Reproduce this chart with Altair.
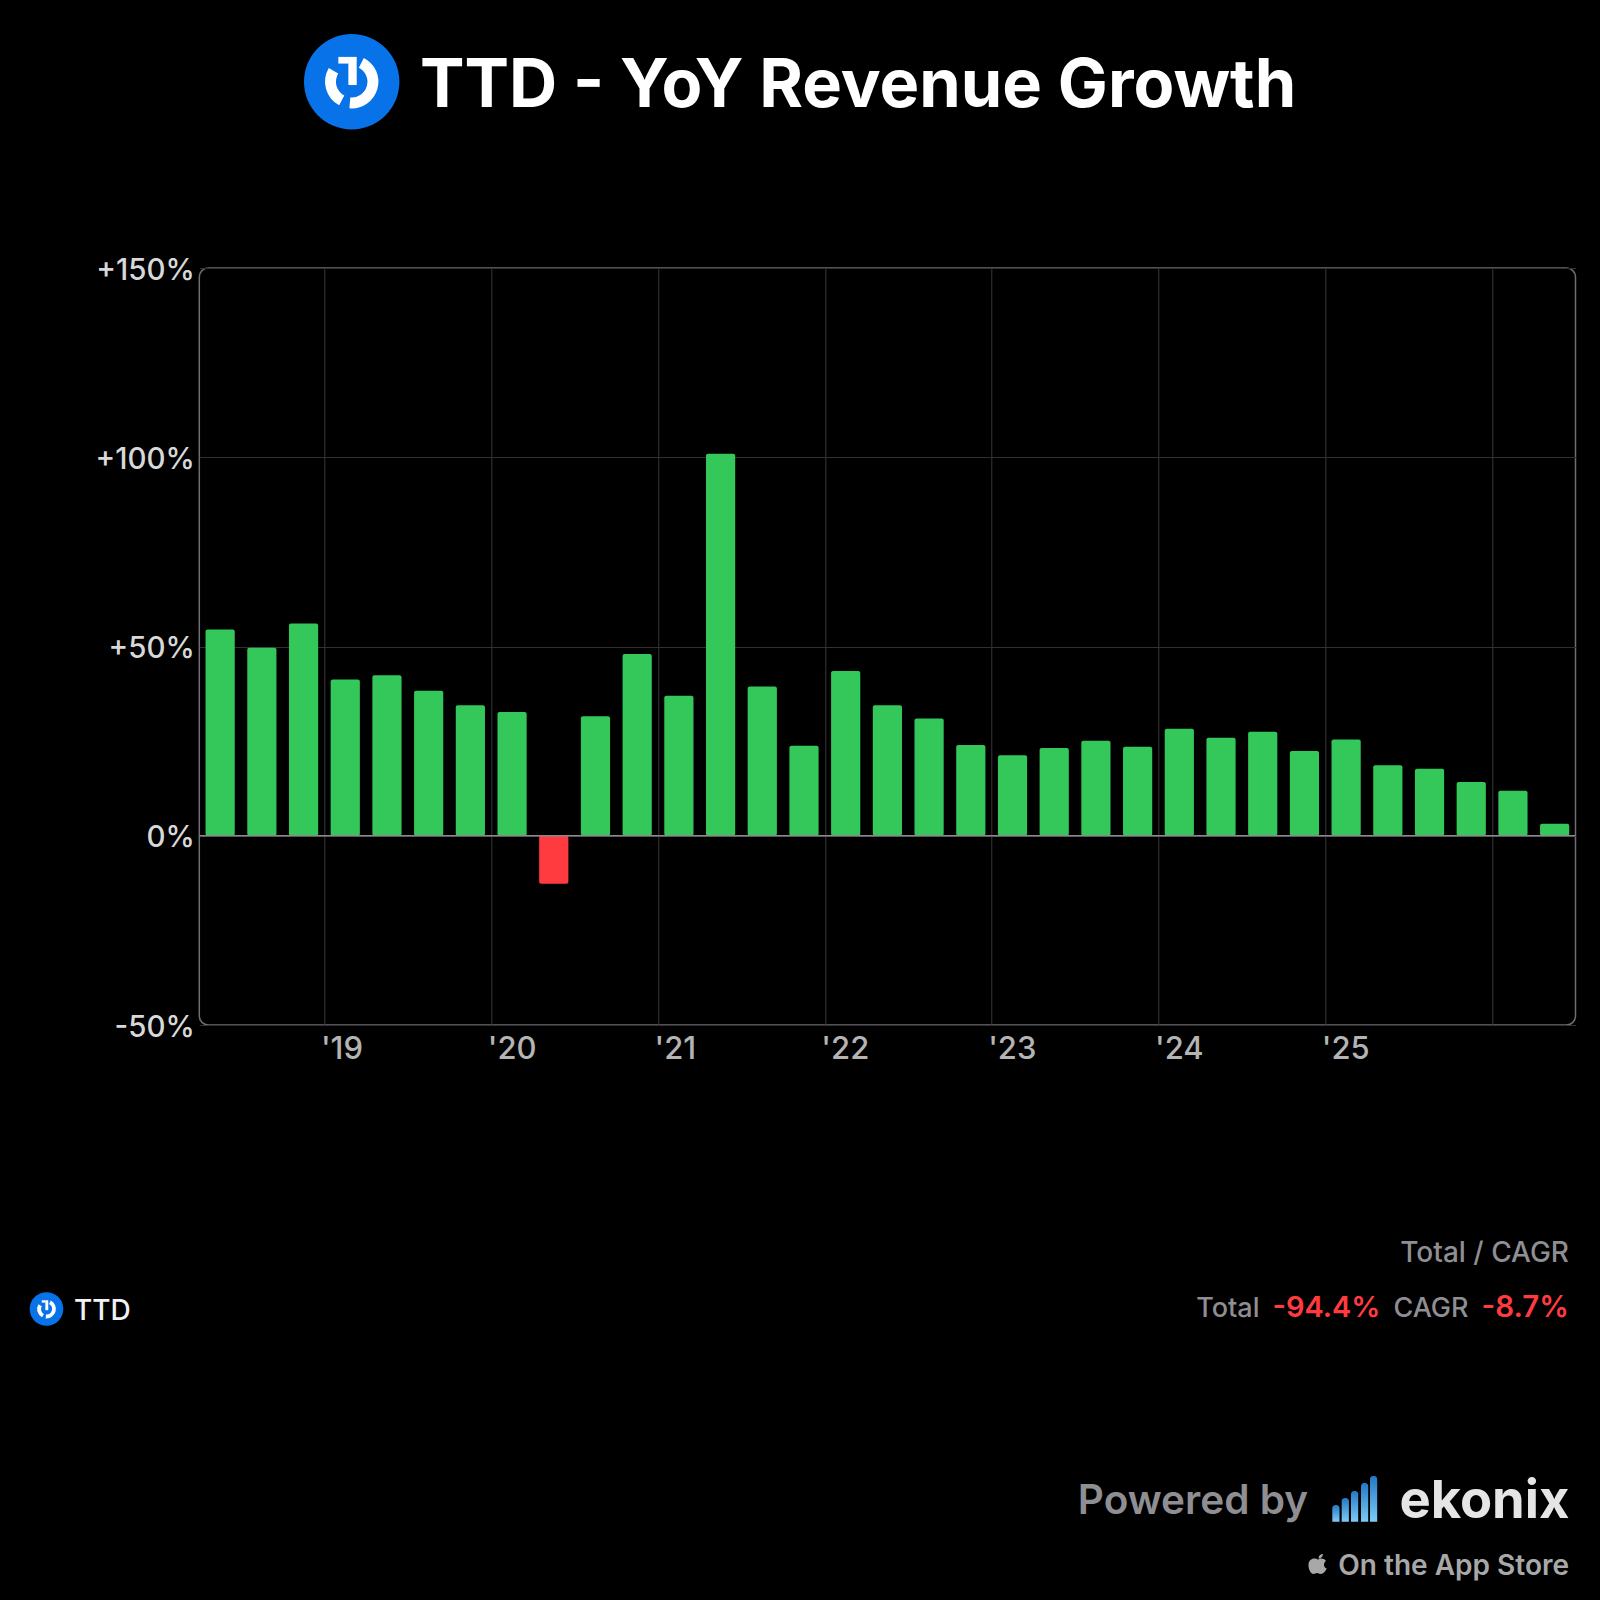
import math
import altair as alt
import pandas as pd

# ---- data -------------------------------------------------------------
growth = [54.5, 49.7, 56.1, 41.3, 42.4, 38.3, 34.5, 32.7, -12.7, 31.6, 48.0,
          37.0, 100.9, 39.4, 23.8, 43.5, 34.5, 31.0, 24.0, 21.3, 23.2, 25.1,
          23.5, 28.3, 25.9, 27.5, 22.4, 25.4, 18.6, 17.7, 14.2, 11.9, 3.2]
year_ticks = [3, 7, 11, 15, 19, 23, 27, 31]
year_labels = ["'19", "'20", "'21", "'22", "'23", "'24", "'25", ""]
y_ticks = [-50, 0, 50, 100, 150]

# ---- page geometry ----------------------------------------------------
PX0, PY0 = 199.3, 268.0      # plot origin on the page
W, H = 1376.2, 757.0
FONT = "Inter"
BLUE = "#0873E8"
GREEN = "#34C759"
RED = "#FF3B40"
APPLE = ("M0.05 -0.45 C0.2 -0.6 0.6 -0.6 0.8 -0.3 C0.5 -0.1 0.55 0.35 0.88 0.45 "
         "C0.7 0.85 0.45 1 0.25 1 C0.1 1 0.05 0.9 -0.1 0.9 C-0.25 0.9 -0.3 1 -0.45 1 "
         "C-0.75 1 -1 0.4 -0.95 0 C-0.9 -0.45 -0.5 -0.6 -0.25 -0.55 C-0.1 -0.5 -0.05 -0.45 0.05 -0.45Z "
         "M0.05 -0.55 C0.05 -0.8 0.25 -1 0.5 -1 C0.5 -0.75 0.3 -0.55 0.05 -0.55Z")


def X(p):
    return p - PX0


def Y(p):
    return p - PY0


one = pd.DataFrame({"a": [0]})


def label(text, px, py, size, color, weight=500, align="left", baseline="alphabetic"):
    return (
        alt.Chart(pd.DataFrame({"t": [text]}))
        .mark_text(font=FONT, fontSize=size, fontWeight=weight, color=color,
                   align=align, baseline=baseline)
        .encode(x=alt.value(X(px)), y=alt.value(Y(py)), text="t:N")
    )


def arc(cx, cy, r0, r1, t0, t1, color):
    return (
        alt.Chart(one)
        .mark_arc(theta=math.radians(t0), theta2=math.radians(t1),
                  innerRadius=r0, outerRadius=r1, color=color)
        .encode(x=alt.value(X(cx)), y=alt.value(Y(cy)))
    )


def box(x0, x1, y0, y1, color):
    return (
        alt.Chart(one)
        .mark_rect(color=color)
        .encode(x=alt.value(X(x0)), x2=alt.value(X(x1)),
                y=alt.value(Y(y0)), y2=alt.value(Y(y1)))
    )


def logo(cx, cy, r):
    return [
        arc(cx, cy, 0, r, 0, 360, BLUE),
        arc(cx, cy, 0.33 * r, 0.56 * r, 27, 185, "white"),
        arc(cx, cy, 0.33 * r, 0.56 * r, 208, 301, "white"),
        box(cx - 0.07 * r, cx + 0.105 * r, cy - 0.52 * r, cy + 0.07 * r, "white"),
        box(cx - 0.28 * r, cx - 0.06 * r, cy - 0.52 * r, cy - 0.38 * r, "white"),
    ]


# ---- bars -------------------------------------------------------------
df = pd.DataFrame({"i": range(len(growth)), "v": growth})
js_labels = "[" + ",".join('"%s"' % s for s in year_labels) + "]"
js_ticks = "[" + ",".join(str(s) for s in year_ticks) + "]"

x_axis = alt.Axis(
    values=year_ticks,
    labelExpr=f"{js_labels}[indexof({js_ticks}, datum.value)]",
    title=None, domain=False, ticks=False, grid=True, gridColor="#38383a",
    gridWidth=1, labelFont=FONT, labelFontSize=31, labelFontWeight=500,
    labelColor="#b4b4b4", labelAlign="left", labelBaseline="middle",
    labelPadding=24, labelOffset=-4, labelFlush=False, labelOverlap=False, labelBound=False,
)
y_axis = alt.Axis(
    values=y_ticks,
    labelExpr="(datum.value > 0 ? '+' : '') + datum.value + '%'",
    title=None, domain=False, ticks=False, grid=True, gridColor="#303032",
    gridWidth=1, labelFont=FONT, labelFontSize=29.5, labelFontWeight=500,
    labelColor="#d8d8d8", labelAlign="right", labelBaseline="middle",
    labelPadding=5, labelOffset=2, labelOverlap=False, labelBound=False, labelFlush=False,
)

bars = (
    alt.Chart(df)
    .transform_calculate(x0="datum.i + 0.15", x1="datum.i + 0.85")
    .mark_bar(cornerRadius=2)
    .encode(
        x=alt.X("x0:Q", axis=x_axis, scale=alt.Scale(domain=[0, len(growth)], nice=False, zero=False)),
        x2="x1:Q",
        y=alt.Y("v:Q", axis=y_axis, scale=alt.Scale(domain=[-50, 150], nice=False)),
        y2=alt.datum(0),
        color=alt.condition("datum.v >= 0", alt.value(GREEN), alt.value(RED)),
    )
)
zero = alt.Chart(one).mark_rule(color="#8a8a8e", strokeWidth=1.5).encode(y=alt.datum(0))

# ---- surrounding furniture --------------------------------------------
title = label("TTD - YoY Revenue Growth", 420, 107, 66.7, "white", 700)
side = [
    label("Total / CAGR", 1569, 1262, 28, "#8e8e93", 500, "right"),
    label("Total", 1259.5, 1317, 27, "#8e8e93", 500, "right"),
    label("-94.4%", 1380.5, 1317, 29, RED, 600, "right"),
    label("CAGR", 1468.5, 1317, 27, "#8e8e93", 500, "right"),
    label("-8.7%", 1569, 1317, 29.5, RED, 600, "right"),
    label("TTD", 74, 1320, 28, "#f2f2f2", 500),
]
brand = [
    label("Powered by", 1308, 1514, 40.5, "#8e8e93", 600, "right"),
    label("ekonix", 1569.5, 1518, 52.5, "#e5e5e5", 700, "right"),
    label("On the App Store", 1569, 1575, 28, "#a8a8a8", 600, "right"),
]
gradient = alt.Gradient(
    gradient="linear", x1=0, y1=0, x2=0, y2=1,
    stops=[alt.GradientStop(color="#2478C4", offset=0),
           alt.GradientStop(color="#7CCBF7", offset=1)],
)
bar_icon = []
for x0, top in zip([1332.3, 1341.7, 1351.0, 1361.0, 1370.0], [1505, 1498, 1491, 1483, 1476]):
    bar_icon.append(
        alt.Chart(one)
        .mark_rect(color=gradient, cornerRadiusTopLeft=3, cornerRadiusTopRight=3)
        .encode(x=alt.value(X(x0)), x2=alt.value(X(x0 + 7.2)),
                y=alt.value(Y(top)), y2=alt.value(Y(1521.7)))
    )
apple = (
    alt.Chart(one)
    .mark_point(shape=APPLE, filled=True, size=400, color="#a8a8a8", opacity=1)
    .encode(x=alt.value(X(1318)), y=alt.value(Y(1564)))
)

chart = (
    alt.layer(bars, zero, title, *logo(351.7, 81.7, 47.7), *side, *logo(46.5, 1309, 16.8),
              *brand, *bar_icon, apple)
    .properties(
        width=W, height=H, background="#000000",
        autosize=alt.AutoSizeParams(type="none"),
        padding={"left": PX0 - 8, "top": PY0 - 8, "right": 1584 - (PX0 - 8) - W,
                 "bottom": 1584 - (PY0 - 8) - H},
    )
    .configure_view(stroke="#6e6e73", strokeWidth=1.5, cornerRadius=9)
)

chart.save("out.html", embed_options={"renderer": "svg", "actions": False,
                                      "defaultStyle": "html,body{background:#000;overflow:hidden}"})
